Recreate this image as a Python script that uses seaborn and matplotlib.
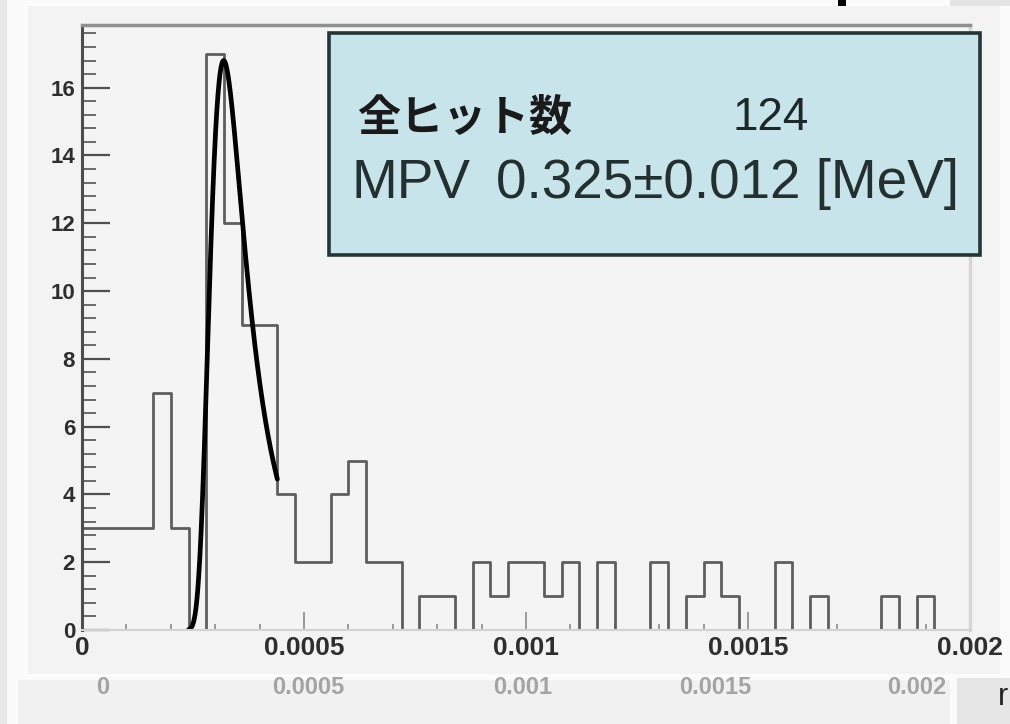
import numpy as np
import pandas as pd
import seaborn as sns
import matplotlib
matplotlib.use("Agg")
import matplotlib.pyplot as plt
from matplotlib.patches import Rectangle
from matplotlib.ticker import MultipleLocator

# --- histogram contents (energy deposit per hit) ---
x_min, x_max, n_bins = 0.0, 0.002, 50
counts = [3, 3, 3, 3, 7, 3, 0, 17, 12, 9,
          9, 4, 2, 2, 4, 5, 2, 2, 0, 1,
          1, 0, 2, 1, 2, 2, 1, 2, 0, 2,
          0, 0, 2, 0, 1, 2, 1, 0, 0, 2,
          0, 1, 0, 0, 0, 1, 0, 1, 0, 0]
x_ticks = [0.0, 0.0005, 0.001, 0.0015, 0.002]
x_tick_labels = ["0", "0.0005", "0.001", "0.0015", "0.002"]
y_ticks = [0, 2, 4, 6, 8, 10, 12, 14, 16]

# --- Landau fit result ---
n_entries = 124
fit_const = 93.0
fit_mpv = 0.000325       # GeV
fit_mpv_err = 0.000012   # GeV
fit_sigma = 0.0000265    # GeV
fit_range = (0.00024, 0.00044)

label_entries = "全ヒット数"
label_mpv = "MPV"


def landau(lam):
    """Landau density phi(lambda) by direct integration."""
    t = np.linspace(1e-9, 60.0, 30000)
    lam = np.atleast_1d(lam)
    integrand = np.exp(-t * np.log(t) - np.outer(lam, t)) * np.sin(np.pi * t)
    return np.trapezoid(integrand, t, axis=1) / np.pi


edges = np.linspace(x_min, x_max, n_bins + 1)
centers = 0.5 * (edges[:-1] + edges[1:])
hist_df = pd.DataFrame({"E": centers, "n": counts})

fx = np.linspace(fit_range[0], fit_range[1], 300)
fy = fit_const * landau((fx - fit_mpv) / fit_sigma)
fit_df = pd.DataFrame({"E": fx, "f": fy})

sns.set_style("white")
plt.rcParams["font.family"] = ["Liberation Sans", "Noto Sans CJK JP", "DejaVu Sans"]

W, H = 1010, 724
fig = plt.figure(figsize=(W / 100, H / 100), dpi=100, facecolor="#fbfbfb")


def fx_(px):
    return px / W


def fy_(py):
    return 1 - py / H


# canvas backgrounds
fig.add_artist(Rectangle((0, 0), fx_(7), 1, transform=fig.transFigure,
                         facecolor="#e8e8e8", edgecolor="none", zorder=-5))
fig.add_artist(Rectangle((fx_(28), fy_(674)), fx_(1000 - 28), (674 - 6) / H,
                         transform=fig.transFigure, facecolor="#f3f3f3",
                         edgecolor="none", zorder=-4))
fig.add_artist(Rectangle((fx_(18), 0), fx_(950 - 18), (724 - 680) / H,
                         transform=fig.transFigure, facecolor="#f1f1f1",
                         edgecolor="none", zorder=-4))
fig.add_artist(Rectangle((fx_(957), 0), fx_(53), (724 - 678) / H,
                         transform=fig.transFigure, facecolor="#e6e6e6",
                         edgecolor="none", zorder=-4))
fig.add_artist(Rectangle((fx_(950), fy_(6)), fx_(60), 6 / H,
                         transform=fig.transFigure, facecolor="#e4e4e4",
                         edgecolor="none", zorder=-4))
fig.add_artist(Rectangle((fx_(838), fy_(6)), fx_(8), 6 / H,
                         transform=fig.transFigure, facecolor="black",
                         edgecolor="none", zorder=5))

ax = fig.add_axes([fx_(82), fy_(630), fx_(970 - 82), (630 - 25) / H])
ax.set_facecolor("#f4f4f4")

sns.histplot(data=hist_df, x="E", weights="n", bins=n_bins,
             binrange=(x_min, x_max), element="step",
             fill=False, color="#5e5e5e", linewidth=2.0, ax=ax)
sns.lineplot(data=fit_df, x="E", y="f", color="black", linewidth=3.4,
             estimator=None, sort=False, ax=ax)

ax.set_xlim(x_min, x_max)
ax.set_ylim(0, 17.85)
ax.set_xlabel("")
ax.set_ylabel("")

ax.set_xticks(x_ticks)
ax.set_xticklabels(x_tick_labels)
ax.xaxis.set_minor_locator(MultipleLocator(0.0001))
ax.set_yticks(y_ticks)
ax.yaxis.set_minor_locator(MultipleLocator(0.4))

ax.tick_params(axis="y", which="major", direction="in", length=20, width=1.6,
               color="#505050", pad=5, labelsize=16, labelcolor="#2e2e2e",
               left=True, right=False)
ax.tick_params(axis="y", which="minor", direction="in", length=10, width=1.4,
               color="#6a6a6a", left=True, right=False)
ax.tick_params(axis="x", which="major", direction="in", length=13, width=1.4,
               color="#9a9a9a", pad=4, labelsize=19, labelcolor="#2e2e2e",
               bottom=True, top=False)
ax.tick_params(axis="x", which="minor", direction="in", length=4, width=1.4,
               color="#9a9a9a", bottom=True, top=False)
for lab in ax.get_xticklabels() + ax.get_yticklabels():
    lab.set_fontweight("bold")

ax.spines["left"].set_color("#4d4d4d")
ax.spines["left"].set_linewidth(2.2)
ax.spines["bottom"].set_color("#d2d2d2")
ax.spines["bottom"].set_linewidth(1.5)
ax.spines["top"].set_color("#8f8f8f")
ax.spines["top"].set_linewidth(2.5)
ax.spines["right"].set_color("#d6d6d6")
ax.spines["right"].set_linewidth(2.5)

# statistics box
fig.add_artist(Rectangle((fx_(329), fy_(255)), fx_(980 - 329), (255 - 33) / H,
                         transform=fig.transFigure, facecolor="#c6e4e9",
                         edgecolor="#263636", linewidth=2.6, zorder=4))
fig.text(fx_(357), fy_(118), label_entries, fontsize=31, fontweight="bold",
         color="#1a1a1a", va="center", ha="left", zorder=6,
         family=["Noto Sans CJK JP", "DejaVu Sans"])
fig.text(fx_(732), fy_(118), f"{n_entries}", fontsize=33, color="#1e2828",
         va="center", ha="left", zorder=6)
fig.text(fx_(351), fy_(184), label_mpv, fontsize=39.5, color="#243030",
         va="center", ha="left", zorder=6)
fig.text(fx_(496), fy_(184),
         f"{fit_mpv * 1000:.3f}±{fit_mpv_err * 1000:.3f} [MeV]",
         fontsize=39.5, color="#243030", va="center", ha="left", zorder=6)

# faint repeated scale row below the frame
ghost_x = [103, 308, 523, 715, 917]
for px, txt in zip(ghost_x, x_tick_labels):
    fig.text(fx_(px), fy_(688), txt, fontsize=17, fontweight="bold",
             color="#a4a4a4", ha="center", va="center")
fig.text(fx_(1003), fy_(697), "r", fontsize=22, color="#222222",
         ha="center", va="center")

fig.savefig("out.png", dpi=100, facecolor=fig.get_facecolor())
